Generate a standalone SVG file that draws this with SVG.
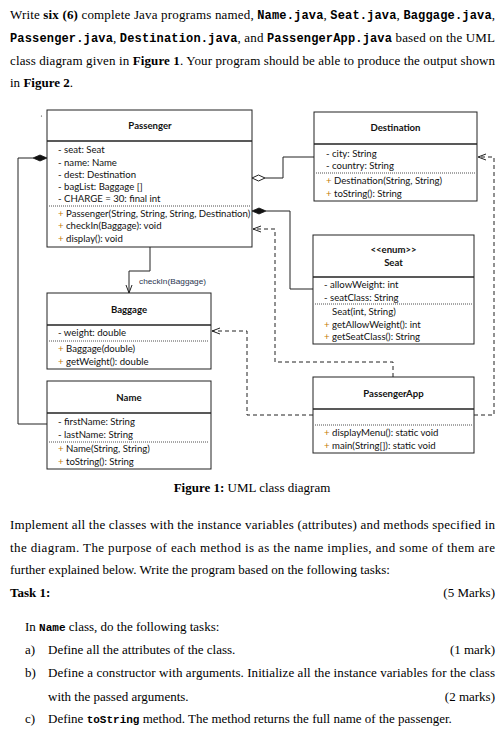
<svg xmlns="http://www.w3.org/2000/svg" width="503" height="747" viewBox="0 0 503 747">
<style>
.p{font-family:"Liberation Serif","Times New Roman",serif;font-size:13px;fill:#000}
.b{font-weight:bold}
.m{font-family:"Liberation Mono","Courier New",monospace;font-size:12px;font-weight:bold}
.ms{font-family:"Liberation Mono","Courier New",monospace;font-size:11px;font-weight:bold}
.box{fill:#fff;stroke:#222;stroke-width:1}
.hd{stroke:#222;stroke-width:1.4}
.sep{stroke:#222;stroke-width:0.8;stroke-dasharray:1,1}
.t{font-family:Lato,"Liberation Sans",sans-serif;font-size:9.6px;fill:#111}
.n{font-family:Lato,"Liberation Sans",sans-serif;font-size:9.6px;font-weight:bold;fill:#111;text-anchor:middle}
.pl{fill:#c47a00}
.ln{fill:none;stroke:#222;stroke-width:1}
.dl{fill:none;stroke:#222;stroke-width:1;stroke-dasharray:4,3}
.lbl{font-family:"Liberation Sans",Arial,sans-serif;font-size:7.4px;fill:#2a3550}
</style>
<defs>
<marker id="open" markerWidth="10" markerHeight="10" refX="9" refY="4" orient="auto" markerUnits="userSpaceOnUse">
<path d="M1,1 L9,4 L1,7" fill="none" stroke="#222" stroke-width="1"/>
</marker>
</defs>

<!-- page text -->
<text class="p" x="10" y="19" textLength="485" lengthAdjust="spacing">Write <tspan class="b">six (6)</tspan> complete Java programs named, <tspan class="m">Name.java</tspan>, <tspan class="m">Seat.java</tspan>, <tspan class="m">Baggage.java</tspan>,</text>
<text class="p" x="10" y="42" textLength="485" lengthAdjust="spacing"><tspan class="m">Passenger.java</tspan>, <tspan class="m">Destination.java</tspan>, and <tspan class="m">PassengerApp.java</tspan> based on the UML</text>
<text class="p" x="10" y="65" textLength="485" lengthAdjust="spacing">class diagram given in <tspan class="b">Figure 1</tspan>. Your program should be able to produce the output shown</text>
<text class="p" x="10" y="87">in <tspan class="b">Figure 2</tspan>.</text>

<circle cx="41.5" cy="116" r="0.6" fill="#333"/>

<!-- connectors -->
<g id="connectors">
<polyline class="ln" points="47,424 18,424 18,158 33,158"/>
<polygon points="33,158 40,155 47,158 40,161" fill="#111" stroke="#111" stroke-width="0.8"/>
<polyline class="ln" points="265,178 283,178 283,157 314,157"/>
<polygon points="252,178 258.5,175 265,178 258.5,181" fill="#fff" stroke="#222" stroke-width="1"/>
<polyline class="ln" points="266,211 290,211 290,289 313,289"/>
<polygon points="252,211 259,208 266,211 259,214" fill="#111" stroke="#111" stroke-width="0.8"/>
<polyline class="dl" points="393,377 393,362 275,362 275,229 253,229" marker-end="url(#open)"/>
<polyline class="dl" points="474,415 494,415 494,157 478,157" marker-end="url(#open)"/>
<polyline class="dl" points="313,415 247,415 247,331 212,331" marker-end="url(#open)"/>
<polyline class="ln" points="150,247 150,271 129,271 129,293" marker-end="url(#open)"/>
<text class="lbl" x="139" y="284" textLength="67" lengthAdjust="spacingAndGlyphs">checkIn(Baggage)</text>
</g>

<!-- Passenger -->
<g id="passenger">
<rect class="box" x="47" y="110" width="205" height="137"/>
<line class="hd" x1="47" y1="141" x2="252" y2="141"/>
<line class="sep" x1="49" y1="206" x2="250" y2="206"/>
<text class="n" x="150" y="129">Passenger</text>
<text class="t" x="58" y="152.5">- seat: Seat</text>
<text class="t" x="58" y="165.5">- name: Name</text>
<text class="t" x="58" y="177.5">- dest: Destination</text>
<text class="t" x="58" y="189.5">- bagList: Baggage []</text>
<text class="t" x="58" y="201.5">- CHARGE = 30: final int</text>
<text class="t" x="58" y="216.5"><tspan class="pl">+</tspan> Passenger(String, String, String, Destination)</text>
<text class="t" x="58" y="229"><tspan class="pl">+</tspan> checkIn(Baggage): void</text>
<text class="t" x="58" y="242"><tspan class="pl">+</tspan> display(): void</text>
</g>

<!-- Destination -->
<g id="destination">
<rect class="box" x="314" y="112" width="163" height="89"/>
<line class="hd" x1="314" y1="144" x2="477" y2="144"/>
<line class="sep" x1="316" y1="173" x2="475" y2="173"/>
<text class="n" x="395.5" y="131">Destination</text>
<text class="t" x="326" y="157">- city: String</text>
<text class="t" x="326" y="169">- country: String</text>
<text class="t" x="326" y="183.5"><tspan class="pl">+</tspan> Destination(String, String)</text>
<text class="t" x="326" y="196.5"><tspan class="pl">+</tspan> toString(): String</text>
</g>

<!-- Seat -->
<g id="seat">
<rect class="box" x="313" y="235" width="161" height="109"/>
<line class="hd" x1="313" y1="277" x2="474" y2="277"/>
<line class="sep" x1="315" y1="304" x2="472" y2="304"/>
<text class="n" x="393.5" y="253">&lt;&lt;enum&gt;&gt;</text>
<text class="n" x="393.5" y="266">Seat</text>
<text class="t" x="324" y="288">- allowWeight: int</text>
<text class="t" x="324" y="301">- seatClass: String</text>
<text class="t" x="332" y="315">Seat(int, String)</text>
<text class="t" x="324" y="327.5"><tspan class="pl">+</tspan> getAllowWeight(): int</text>
<text class="t" x="324" y="340"><tspan class="pl">+</tspan> getSeatClass(): String</text>
</g>

<!-- PassengerApp -->
<g id="passengerapp">
<rect class="box" x="313" y="377" width="161" height="76"/>
<line class="hd" x1="313" y1="409" x2="474" y2="409"/>
<line class="sep" x1="315" y1="425" x2="472" y2="425"/>
<text class="n" x="393.5" y="397">PassengerApp</text>
<text class="t" x="324" y="436"><tspan class="pl">+</tspan> displayMenu(): static void</text>
<text class="t" x="324" y="449"><tspan class="pl">+</tspan> main(String[]): static void</text>
</g>

<!-- Baggage -->
<g id="baggage">
<rect class="box" x="47" y="293" width="164" height="76"/>
<line class="hd" x1="47" y1="325" x2="211" y2="325"/>
<line class="sep" x1="49" y1="341" x2="209" y2="341"/>
<text class="n" x="129" y="313">Baggage</text>
<text class="t" x="58" y="336">- weight: double</text>
<text class="t" x="58" y="352"><tspan class="pl">+</tspan> Baggage(double)</text>
<text class="t" x="58" y="364.5"><tspan class="pl">+</tspan> getWeight(): double</text>
</g>

<!-- Name -->
<g id="name">
<rect class="box" x="47" y="381" width="164" height="88"/>
<line class="hd" x1="47" y1="413" x2="211" y2="413"/>
<line class="sep" x1="49" y1="442" x2="209" y2="442"/>
<text class="n" x="129" y="401">Name</text>
<text class="t" x="58" y="425">- firstName: String</text>
<text class="t" x="58" y="438">- lastName: String</text>
<text class="t" x="58" y="452"><tspan class="pl">+</tspan> Name(String, String)</text>
<text class="t" x="58" y="465"><tspan class="pl">+</tspan> toString(): String</text>
</g>

<text class="p" x="252" y="492" text-anchor="middle"><tspan class="b">Figure 1:</tspan> UML class diagram</text>

<text class="p" x="10" y="529" textLength="485" lengthAdjust="spacing">Implement all the classes with the instance variables (attributes) and methods specified in</text>
<text class="p" x="10" y="552" textLength="485" lengthAdjust="spacing">the diagram. The purpose of each method is as the name implies, and some of them are</text>
<text class="p" x="10" y="574">further explained below. Write the program based on the following tasks:</text>
<text class="p b" x="10" y="597">Task 1:</text>
<text class="p" x="495" y="597" text-anchor="end">(5 Marks)</text>
<text class="p" x="25" y="631">In <tspan class="ms">Name</tspan> class, do the following tasks:</text>
<text class="p" x="25" y="654">a)</text>
<text class="p" x="48" y="654">Define all the attributes of the class.</text>
<text class="p" x="495" y="654" text-anchor="end">(1 mark)</text>
<text class="p" x="25" y="677">b)</text>
<text class="p" x="48" y="677" textLength="447" lengthAdjust="spacing">Define a constructor with arguments. Initialize all the instance variables for the class</text>
<text class="p" x="48" y="701">with the passed arguments.</text>
<text class="p" x="495" y="701" text-anchor="end">(2 marks)</text>
<text class="p" x="25" y="723">c)</text>
<text class="p" x="48" y="723">Define <tspan class="ms">toString</tspan> method. The method returns the full name of the passenger.</text>
</svg>
